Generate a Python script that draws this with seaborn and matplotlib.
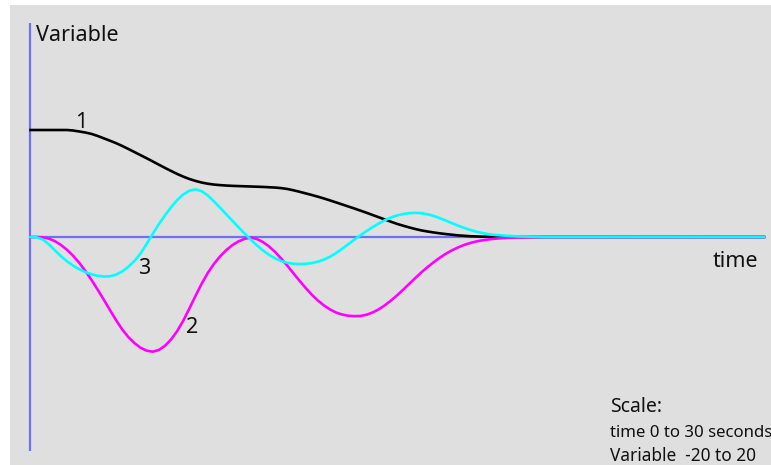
import matplotlib
matplotlib.use("Agg")
import matplotlib.pyplot as plt
import seaborn as sns
import pandas as pd

# Time samples (seconds) and the three response curves
time_s = [0, 0.25, 0.5, 0.75, 1, 1.25, 1.5, 1.75, 2, 2.25, 2.5, 2.75,
          3, 3.25, 3.5, 3.75, 4, 4.25, 4.5, 4.75, 5, 5.25, 5.5, 5.75,
          6, 6.25, 6.5, 6.75, 7, 7.25, 7.5, 7.75, 8, 8.25, 8.5, 8.75,
          9, 9.25, 9.5, 9.75, 10, 10.25, 10.5, 10.75, 11, 11.25, 11.5, 11.75,
          12, 12.25, 12.5, 12.75, 13, 13.25, 13.5, 13.75, 14, 14.25, 14.5, 14.75,
          15, 15.25, 15.5, 15.75, 16, 16.25, 16.5, 16.75, 17, 17.25, 17.5, 17.75,
          18, 18.25, 18.5, 18.75, 19, 19.25, 19.5, 19.75, 20, 21, 30]

curve_1 = [10.0, 10.0, 10.0, 10.0, 10.0, 10.0, 10.0, 9.95, 9.86, 9.76, 9.63, 9.44,
           9.22, 9.0, 8.77, 8.51, 8.23, 7.94, 7.65, 7.36, 7.06, 6.76, 6.46, 6.17,
           5.89, 5.64, 5.42, 5.24, 5.09, 4.98, 4.90, 4.85, 4.81, 4.78, 4.76, 4.74,
           4.72, 4.70, 4.68, 4.65, 4.62, 4.57, 4.49, 4.37, 4.23, 4.08, 3.93, 3.77,
           3.60, 3.42, 3.23, 3.04, 2.85, 2.66, 2.46, 2.26, 2.05, 1.84, 1.63, 1.42,
           1.22, 1.05, 0.89, 0.74, 0.61, 0.51, 0.42, 0.34, 0.27, 0.21, 0.15, 0.11,
           0.07, 0.05, 0.03, 0.02, 0.01, 0.0, 0.0, 0.0, 0.0, 0.0, 0.0]

curve_2 = [0.0, 0.0, -0.03, -0.15, -0.39, -0.75, -1.21, -1.77, -2.43, -3.19, -4.03, -4.93,
           -5.87, -6.83, -7.77, -8.63, -9.35, -9.91, -10.35, -10.62, -10.72, -10.56, -10.17, -9.58,
           -8.79, -7.81, -6.68, -5.5, -4.37, -3.37, -2.52, -1.82, -1.24, -0.77, -0.42, -0.18,
           -0.05, -0.18, -0.46, -0.87, -1.39, -2.0, -2.67, -3.38, -4.08, -4.75, -5.38, -5.93,
           -6.39, -6.77, -7.06, -7.25, -7.36, -7.40, -7.38, -7.26, -7.05, -6.75, -6.37, -5.93,
           -5.44, -4.91, -4.36, -3.81, -3.28, -2.79, -2.34, -1.92, -1.55, -1.23, -0.96, -0.73,
           -0.55, -0.41, -0.30, -0.22, -0.16, -0.11, -0.07, -0.05, -0.03, -0.01, 0.0]

curve_3 = [0.0, -0.03, -0.23, -0.68, -1.25, -1.8, -2.28, -2.69, -3.02, -3.29, -3.49, -3.63,
           -3.70, -3.67, -3.52, -3.22, -2.79, -2.25, -1.55, -0.65, 0.3, 1.2, 2.02, 2.78,
           3.45, 3.98, 4.33, 4.45, 4.28, 3.88, 3.34, 2.75, 2.14, 1.53, 0.93, 0.34,
           -0.22, -0.76, -1.24, -1.66, -1.99, -2.24, -2.41, -2.5, -2.53, -2.51, -2.44, -2.31,
           -2.11, -1.84, -1.5, -1.1, -0.67, -0.24, 0.17, 0.56, 0.93, 1.27, 1.57, 1.83,
           2.02, 2.15, 2.23, 2.26, 2.22, 2.12, 1.96, 1.75, 1.52, 1.28, 1.05, 0.84,
           0.65, 0.49, 0.36, 0.26, 0.19, 0.15, 0.11, 0.08, 0.05, 0.0, 0.0]

curve_names = ["1", "2", "3"]
curve_colors = ["#000000", "#ff00ff", "#00ffff"]

df = pd.concat([
    pd.DataFrame({"time": time_s, "value": vals, "curve": name})
    for name, vals in zip(curve_names, [curve_1, curve_2, curve_3])
], ignore_index=True)

W, H, DPI = 771, 465, 100
fig = plt.figure(figsize=(W / DPI, H / DPI), dpi=DPI, facecolor="white")

# Grey drawing panel, inset slightly from the top and left edges
left_px, top_px = 10, 5
ax = fig.add_axes([left_px / W, 0, (W - left_px) / W, (H - top_px) / H])
ax.set_facecolor("#dfdfdf")
for s in ax.spines.values():
    s.set_visible(False)
ax.set_xticks([])
ax.set_yticks([])

# data <-> pixel scale: 24.45 px per second, 10.7 px per unit, origin at (30.5, 237)
px_t, px_v = 24.45, 10.7
x0, y0 = 30.5, 237
ax.set_xlim((left_px - x0) / px_t, (W - x0) / px_t)
ax.set_ylim(-(H - y0) / px_v, (y0 - top_px) / px_v)

# axes lines
axis_blue = "#6e6eff"
ax.plot([0, 0], [-20, 20], color=axis_blue, lw=1.6, solid_capstyle="butt", zorder=1)
ax.plot([0, 30], [0, 0], color=axis_blue, lw=1.6, solid_capstyle="butt", zorder=1)

sns.lineplot(data=df, x="time", y="value", hue="curve", hue_order=curve_names,
             palette=curve_colors, estimator=None, sort=False, lw=1.9,
             legend=False, ax=ax, zorder=2)
ax.set_xlabel("")
ax.set_ylabel("")

font = ["Noto Sans", "DejaVu Sans"]
txt = "#111111"


def label(x, y_top, s, size):
    fig.text(x / W, (H - y_top) / H, s, fontsize=size, family=font, color=txt,
             ha="left", va="baseline")


label(36, 40.7, "Variable", 15.5)
label(75, 127.7, "1", 15.5)
label(138, 274, "3", 15.5)
label(186, 333, "2", 15.5)
label(713, 266.7, "time", 15.5)
label(610, 412.3, "Scale:", 14)
label(610, 436.7, "time 0 to 30 seconds", 12.1)
label(610, 461, "Variable  -20 to 20", 12.4)

fig.savefig("out.png", dpi=DPI, facecolor="white")
